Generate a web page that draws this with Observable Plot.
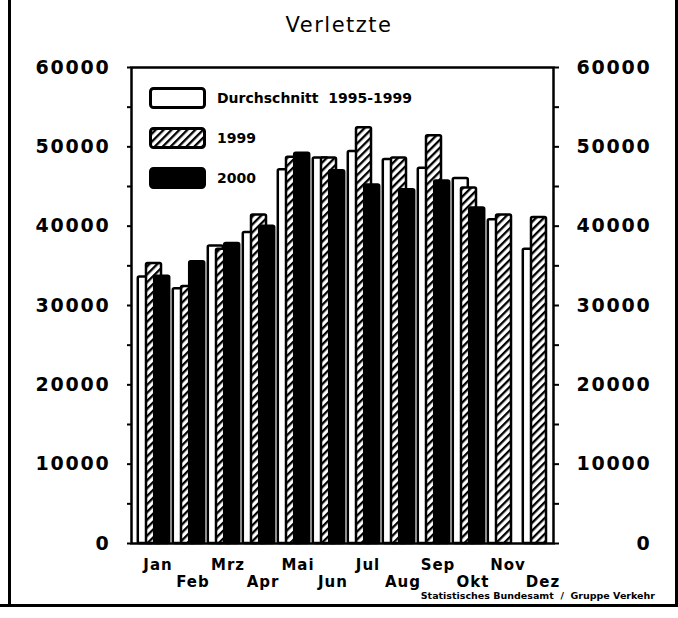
<!DOCTYPE html>
<html>
<head>
<meta charset="utf-8">
<script src="https://cdn.jsdelivr.net/npm/d3@7"></script>
<script src="https://cdn.jsdelivr.net/npm/@observablehq/plot@0.6"></script>
<style>
  body { margin: 0; background: #fff; }
  #wrap { position: relative; width: 678px; height: 618px; overflow: hidden; background: #fff; font-family: "DejaVu Sans", sans-serif; color: #000; }
  #chart { position: absolute; left: 0; top: 0; }
  .title { position: absolute; left: 0; width: 678px; top: 13px; text-align: center; font-size: 21px; letter-spacing: 1.5px; }
  .leg { position: absolute; left: 149px; display: flex; align-items: center; font-weight: bold; font-size: 14px; white-space: pre; }
  .leg svg { margin-right: 11px; display: block; }
  .caption { position: absolute; right: 23px; top: 590px; font-size: 9.5px; font-weight: bold; white-space: pre; }
  .bl { position: absolute; background: #000; }
  #chart g[aria-label="y-axis tick label"] { letter-spacing: 1.8px; }
  #chart g[aria-label="x-axis tick label"] { letter-spacing: 1px; }
</style>
</head>
<body>
<div id="wrap">
  <div class="title">Verletzte</div>
  <div id="legend"></div>
  <div class="caption">Statistisches Bundesamt  /  Gruppe Verkehr</div>
  <div class="bl" style="left:8px;top:0;width:3px;height:607px"></div>
  <div class="bl" style="left:0;top:604px;width:678px;height:3px"></div>
  <div class="bl" style="left:675px;top:0;width:3px;height:607px"></div>
</div>
<script>
const months = ["Jan","Feb","Mrz","Apr","Mai","Jun","Jul","Aug","Sep","Okt","Nov","Dez"];
const series = ["Durchschnitt  1995-1999", "1999", "2000"];
const avg   = [33600, 32100, 37500, 39200, 47100, 48600, 49400, 48400, 47300, 46000, 40800, 37100];
const y1999 = [35300, 32400, 37100, 41400, 48700, 48600, 52400, 48600, 51400, 44800, 41400, 41100];
const y2000 = [33700, 35500, 37800, 40000, 49200, 47000, 45200, 44600, 45700, 42300, null, null];
const yTicks = [0, 10000, 20000, 30000, 40000, 50000, 60000];
const yMinor = [0, 5000, 10000, 15000, 20000, 25000, 30000, 35000, 40000, 45000, 50000, 55000, 60000];
const upperMonths = ["Jan","Mrz","Mai","Jul","Sep","Nov"];
const lowerMonths = ["Feb","Apr","Jun","Aug","Okt","Dez"];

const seriesValues = [avg, y1999, y2000];
const fills = ["white", "url(#hatch)", "black"];
const offsets = [-8.2, 0, 8.2];

const tables = seriesValues.map((vals, k) =>
  months.map((m, i) => ({month: m, series: series[k], value: vals[i]})).filter(d => d.value != null)
);

const chart = Plot.plot({
  width: 678,
  height: 618,
  marginTop: 67,
  marginBottom: 75,
  marginLeft: 131,
  marginRight: 125,
  style: {fontFamily: "DejaVu Sans", background: "transparent", color: "black"},
  x: {domain: months, paddingInner: 0.575, paddingOuter: 0.3, align: 0.66, axis: null},
  y: {domain: [0, 60000], axis: null},
  marks: [
    ...tables.map((t, k) => Plot.barY(t, {
      x: "month", y: "value",
      fill: fills[k], stroke: "black", strokeWidth: 2.5,
      dx: offsets[k], rx: 1.5
    })),
    Plot.frame({stroke: "black", strokeWidth: 2.5}),
    Plot.axisY({anchor: "left", ticks: yMinor, tickSize: 4, strokeWidth: 2, text: null, label: null}),
    Plot.axisY({anchor: "left", ticks: yTicks, tickSize: 0, tickPadding: 21, label: null,
      tickFormat: d => String(d), fontSize: 19, fontWeight: "bold"}),
    Plot.axisY({anchor: "right", ticks: yMinor, tickSize: 5, strokeWidth: 2, text: null, label: null}),
    Plot.axisY({anchor: "right", ticks: yTicks, tickSize: 0, tickPadding: 98, textAnchor: "end", label: null,
      tickFormat: d => String(d), fontSize: 19, fontWeight: "bold"}),
    Plot.axisX({anchor: "bottom", ticks: upperMonths, tickSize: 0, tickPadding: 16, dx: 4, label: null,
      fontSize: 15, fontWeight: "bold"}),
    Plot.axisX({anchor: "bottom", ticks: lowerMonths, tickSize: 0, tickPadding: 33, dx: 4, label: null,
      fontSize: 15, fontWeight: "bold"})
  ]
});

d3.select(chart).insert("defs", ":first-child").html(
  '<pattern id="hatch" patternUnits="userSpaceOnUse" width="5.6" height="5.6" patternTransform="rotate(45)">' +
  '<rect width="5.6" height="5.6" fill="white"/><rect width="2.3" height="5.6" fill="black"/></pattern>'
);
chart.id = "chart";
document.getElementById("wrap").appendChild(chart);

// legend
const legTops = [87, 127, 167];
const legend = document.getElementById("legend");
series.forEach((s, k) => {
  const div = document.createElement("div");
  div.className = "leg";
  div.style.top = legTops[k] + "px";
  const fill = k === 1 ? "url(#hatchL)" : fills[k];
  div.innerHTML =
    '<svg width="57" height="22"><defs><pattern id="hatchL" patternUnits="userSpaceOnUse" width="5.6" height="5.6" patternTransform="rotate(45)">' +
    '<rect width="5.6" height="5.6" fill="white"/><rect width="2.3" height="5.6" fill="black"/></pattern></defs>' +
    '<rect x="1.5" y="1.5" width="54" height="19" rx="3" fill="' + fill + '" stroke="black" stroke-width="3"/></svg>' +
    '<span>' + s + '</span>';
  legend.appendChild(div);
});
</script>
</body>
</html>
